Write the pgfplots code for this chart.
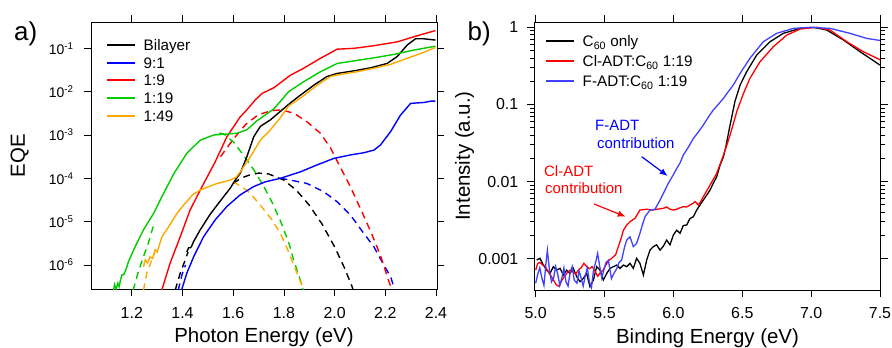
\documentclass[border=0pt]{standalone}
\usepackage{fontspec}
\setmainfont{Liberation Sans}
\usepackage{pgfplots}
\pgfplotsset{compat=1.18}
\usetikzlibrary{arrows.meta}
\definecolor{cgreen}{RGB}{0,204,0}
\definecolor{corange}{RGB}{255,168,0}
\definecolor{cblue}{RGB}{0,0,255}
\definecolor{cblueb}{RGB}{64,64,255}
\definecolor{cred}{RGB}{255,0,0}
\newcommand{\tsup}[1]{\textsuperscript{#1}}
\begin{document}
\begin{tikzpicture}
\pgfplotsset{
  common/.style={
    scale only axis, anchor=south west,
    tick align=outside, major tick length=7bp, minor tick length=4.5bp,
    axis line style={line width=0.8pt}, tick style={black, line width=0.8pt},
    label style={font=\fontsize{20.5}{22}\selectfont},
    xlabel style={at={(axis description cs:0.5,-0.1985)}, anchor=base},
    xticklabel style={anchor=base, yshift=-22bp, font=\fontsize{16}{18}\selectfont},
    legend cell align=left,
  },
}
% ---------------- panel a ----------------
\begin{axis}[common,
  at={(91bp,59bp)}, width=346bp, height=267bp,
  xmin=1.039, xmax=2.404, ymode=log, ymin=2.79e-7, ymax=0.405,
  xtick={1.2,1.4,1.6,1.8,2.0,2.2,2.4},
  xticklabels={1.2,1.4,1.6,1.8,2.0,2.2,2.4},
  ytick={1e-6,1e-5,1e-4,1e-3,1e-2,1e-1},
  yticklabels={10\tsup{-6},10\tsup{-5},10\tsup{-4},10\tsup{-3},10\tsup{-2},10\tsup{-1}},
  yminorticks=false,
  yticklabel style={anchor=east, xshift=-7bp, font=\fontsize{14}{16}\selectfont},
  every axis plot/.append style={line width=1.4bp},
  xlabel={Photon Energy (eV)}, ylabel={EQE},
  ylabel style={at={(axis description cs:-0.191,0.5)}, anchor=base},
  legend image code/.code={\draw[#1, line width=2bp] (0bp,0bp) -- (28bp,0bp);},
  legend style={at={(axis description cs:0.0434,0.942)}, anchor=north west,
    draw=none, fill=none, font=\fontsize{15.3}{17}\selectfont,
    row sep=2.6bp, column sep=7.5bp, inner sep=0pt,
    nodes={inner sep=0pt, text height=13bp, text depth=2bp}},
]
% dashed fits
\addplot[cblue, forget plot, dash pattern=on 7bp off 5bp] coordinates {(1.383,2.6e-7)(1.398,6.0e-7)(1.412,1.0e-6)};
\addplot[cblue, forget plot, dash pattern=on 7bp off 5bp] coordinates {(1.786,1.0e-4)(1.826,9.1e-5)(1.891,7.6e-5)(1.957,4.9e-5)(2.010,2.88e-5)(2.063,1.41e-5)(2.115,5.37e-6)(2.155,2.63e-6)(2.194,1.0e-6)(2.221,5.37e-7)(2.238,2.6e-7)};
\addplot[cred, forget plot, dash pattern=on 7bp off 5bp] coordinates {(1.55,3.16e-4)(1.60,7.94e-4)(1.65,1.78e-3)(1.70,2.95e-3)(1.75,3.63e-3)(1.79,3.8e-3)(1.84,3.16e-3)(1.89,2.04e-3)(1.944,1.10e-3)(1.984,5.0e-4)(2.023,1.78e-4)(2.063,6.3e-5)(2.102,2.0e-5)(2.142,6.0e-6)(2.181,1.66e-6)(2.214,4.2e-7)(2.227,2.6e-7)};
\addplot[black, forget plot, dash pattern=on 7bp off 5bp] coordinates {(1.371,2.6e-7)(1.391,6.46e-7)(1.411,1.32e-6)(1.422,2.0e-6)};
\addplot[black, forget plot, dash pattern=on 7bp off 5bp] coordinates {(1.600,7.6e-5)(1.63,1.0e-4)(1.66,1.17e-4)(1.70,1.32e-4)(1.74,1.26e-4)(1.80,9.1e-5)(1.85,5.25e-5)(1.90,2.4e-5)(1.95,8.9e-6)(2.00,2.63e-6)(2.04,8.3e-7)(2.069,3.16e-7)(2.073,2.6e-7)};
\addplot[cgreen, forget plot, dash pattern=on 7bp off 5bp] coordinates {(1.205,2.6e-7)(1.226,7.1e-7)(1.246,1.55e-6)(1.266,3.31e-6)(1.29,1.0e-5)};
\addplot[cgreen, forget plot, dash pattern=on 7bp off 5bp] coordinates {(1.545,1.10e-3)(1.562,1.07e-3)(1.602,6.76e-4)(1.641,3.39e-4)(1.681,1.58e-4)(1.720,6.6e-5)(1.753,2.82e-5)(1.786,1.05e-5)(1.819,3.31e-6)(1.839,1.26e-6)(1.865,4.47e-7)(1.876,2.6e-7)};
\addplot[corange, forget plot, dash pattern=on 7bp off 5bp] coordinates {(1.246,2.6e-7)(1.259,6.46e-7)(1.279,1.32e-6)(1.29,1.91e-6)};
\addplot[corange, forget plot, dash pattern=on 7bp off 5bp] coordinates {(1.60,8.3e-5)(1.641,6.0e-5)(1.668,4.47e-5)(1.707,2.4e-5)(1.753,1.10e-5)(1.786,5.37e-6)(1.813,2.4e-6)(1.839,1.0e-6)(1.865,4.17e-7)(1.880,2.6e-7)};
% measured EQE
\addplot[black] coordinates {(1.417,2.0e-6)(1.424,2.5e-6)(1.432,2.5e-6)(1.437,2.8e-6)(1.444,3.5e-6)(1.47,6.5e-6)(1.509,1.48e-5)(1.549,3.0e-5)(1.589,6.0e-5)(1.608,9.1e-5)(1.628,1.32e-4)(1.654,3.16e-4)(1.681,9.1e-4)(1.707,1.58e-3)(1.747,2.24e-3)(1.793,3.8e-3)(1.832,5.9e-3)(1.865,8.3e-3)(1.918,1.41e-2)(1.970,2.24e-2)(2.010,2.63e-2)(2.076,3.02e-2)(2.142,3.55e-2)(2.207,4.47e-2)(2.247,6.46e-2)(2.287,0.120)(2.319,0.166)(2.352,0.166)(2.398,0.155)};
\addlegendentry{Bilayer}
\addplot[cblue] coordinates {(1.396,2.6e-7)(1.417,6.46e-7)(1.444,1.55e-6)(1.483,4.47e-6)(1.529,1.10e-5)(1.575,2.24e-5)(1.628,4.17e-5)(1.681,6.46e-5)(1.727,8.3e-5)(1.786,1.0e-4)(1.865,1.41e-4)(1.931,2.04e-4)(1.997,2.88e-4)(2.063,3.47e-4)(2.115,3.89e-4)(2.155,4.47e-4)(2.181,5.89e-4)(2.221,1.20e-3)(2.260,2.88e-3)(2.300,5.37e-3)(2.352,5.62e-3)(2.379,6.03e-3)(2.398,6.03e-3)};
\addlegendentry{9:1}
\addplot[cred] coordinates {(1.318,2.6e-7)(1.351,1.10e-6)(1.391,4.47e-6)(1.43,1.86e-5)(1.47,5.37e-5)(1.529,2.40e-4)(1.575,9.1e-4)(1.628,2.63e-3)(1.654,3.8e-3)(1.687,6.46e-3)(1.714,9.1e-3)(1.760,1.23e-2)(1.826,2.40e-2)(1.878,3.47e-2)(1.944,5.89e-2)(2.010,9.55e-2)(2.076,0.100)(2.155,0.115)(2.247,0.141)(2.326,0.195)(2.398,0.257)};
\addlegendentry{1:9}
\addplot[cgreen] coordinates {(1.128,2.6e-7)(1.132,3.55e-7)(1.138,2.8e-7)(1.145,3.8e-7)(1.150,3.16e-7)(1.156,4.68e-7)(1.162,6.0e-7)(1.168,6.0e-7)(1.176,7.6e-7)(1.180,8.9e-7)(1.187,1.2e-6)(1.213,2.63e-6)(1.246,6.46e-6)(1.286,1.55e-5)(1.319,3.8e-5)(1.365,1.26e-4)(1.417,3.8e-4)(1.47,7.6e-4)(1.523,1.0e-3)(1.575,1.05e-3)(1.615,1.10e-3)(1.654,1.32e-3)(1.694,2.14e-3)(1.760,3.98e-3)(1.819,1.0e-2)(1.878,1.70e-2)(1.944,2.88e-2)(2.010,4.47e-2)(2.076,5.13e-2)(2.155,6.03e-2)(2.234,7.24e-2)(2.313,9.12e-2)(2.398,0.112)};
\addlegendentry{1:19}
\addplot[corange] coordinates {(1.246,9.1e-7)(1.253,1.32e-6)(1.262,1.12e-6)(1.272,1.55e-6)(1.282,1.41e-6)(1.292,2.24e-6)(1.300,2.0e-6)(1.319,4.47e-6)(1.345,7.6e-6)(1.378,1.55e-5)(1.404,2.4e-5)(1.44,4.17e-5)(1.47,5.37e-5)(1.536,7.6e-5)(1.589,9.1e-5)(1.612,1.07e-4)(1.628,1.41e-4)(1.668,3.16e-4)(1.707,7.6e-4)(1.747,1.32e-3)(1.786,2.51e-3)(1.819,4.68e-3)(1.872,7.6e-3)(1.931,1.41e-2)(1.984,2.24e-2)(2.023,2.51e-2)(2.089,2.88e-2)(2.155,3.47e-2)(2.221,4.27e-2)(2.287,5.89e-2)(2.352,8.13e-2)(2.398,0.105)};
\addlegendentry{1:49}
\end{axis}
% ---------------- panel b ----------------
\begin{axis}[common,
  at={(534.3bp,58bp)}, width=346.4bp, height=268bp,
  xmin=4.99, xmax=7.505, ymode=log, ymin=3.92e-4, ymax=1.173,
  xtick={5,5.5,6,6.5,7,7.5},
  xticklabels={5.0,5.5,6.0,6.5,7.0,7.5},
  ytick={0.001,0.01,0.1,1},
  yticklabels={0.001,0.01,0.1,1},
  yticklabel style={anchor=east, xshift=-5.5bp, font=\fontsize{16}{18}\selectfont},
  every axis plot/.append style={line width=1.3bp},
  xlabel={Binding Energy (eV)}, ylabel={Intensity (a.u.)},
  ylabel style={at={(axis description cs:-0.186,0.5)}, anchor=base},
  legend image code/.code={\draw[#1, line width=2bp] (0bp,0bp) -- (28bp,0bp);},
  legend style={at={(axis description cs:0.031,0.957)}, anchor=north west,
    draw=none, fill=none, font=\fontsize{15.3}{17}\selectfont,
    row sep=5bp, column sep=7.5bp, inner sep=0pt,
    nodes={inner sep=0pt, text height=13bp, text depth=2bp}},
]
\addplot[black] coordinates {(5.007,9.6e-4)(5.031,1.01e-3)(5.056,8.26e-4)(5.080,7.1e-4)(5.104,6.44e-4)(5.128,7.87e-4)(5.152,7.1e-4)(5.177,7.48e-4)(5.201,6.14e-4)(5.225,7.1e-4)(5.249,6.44e-4)(5.273,7.48e-4)(5.298,5.83e-4)(5.322,5.02e-4)(5.346,5.55e-4)(5.370,6.44e-4)(5.394,4.33e-4)(5.419,5.28e-4)(5.443,7.87e-4)(5.467,7.1e-4)(5.491,5.28e-4)(5.516,6.44e-4)(5.540,7.48e-4)(5.564,7.87e-4)(5.588,8.26e-4)(5.612,7.48e-4)(5.637,8.26e-4)(5.661,7.87e-4)(5.685,8.69e-4)(5.709,7.48e-4)(5.733,1.01e-3)(5.757,8.69e-4)(5.782,6.14e-4)(5.806,9.6e-4)(5.830,1.29e-3)(5.854,1.43e-3)(5.878,1.51e-3)(5.903,1.29e-3)(5.927,1.45e-3)(5.951,1.74e-3)(5.975,1.51e-3)(6.000,2.03e-3)(6.024,2.34e-3)(6.048,2.13e-3)(6.072,2.69e-3)(6.096,2.73e-3)(6.120,3.31e-3)(6.145,3.5e-3)(6.169,4.27e-3)(6.217,5.75e-3)(6.266,7.76e-3)(6.29,9.55e-3)(6.314,1.15e-2)(6.338,1.62e-2)(6.363,2.09e-2)(6.380,2.8e-2)(6.411,5.37e-2)(6.447,0.110)(6.484,0.178)(6.532,0.266)(6.605,0.438)(6.702,0.652)(6.798,0.836)(6.92,0.970)(7.016,1.0)(7.113,0.923)(7.234,0.686)(7.355,0.483)(7.5,0.324)};
\addlegendentry{C\textsubscript{60} only}
\addplot[cred] coordinates {(5.000,7.1e-4)(5.015,8.7e-4)(5.03,8.9e-4)(5.05,8.3e-4)(5.07,7.9e-4)(5.09,6.8e-4)(5.11,6.0e-4)(5.13,5.25e-4)(5.15,4.57e-4)(5.17,4.37e-4)(5.19,5.25e-4)(5.21,5.9e-4)(5.23,6.6e-4)(5.25,7.1e-4)(5.27,6.8e-4)(5.29,6.3e-4)(5.31,7.1e-4)(5.33,7.6e-4)(5.35,8.7e-4)(5.37,7.9e-4)(5.39,7.4e-4)(5.41,7.9e-4)(5.43,6.9e-4)(5.45,5.9e-4)(5.47,6.6e-4)(5.49,7.1e-4)(5.51,8.3e-4)(5.53,9.5e-4)(5.55,1.0e-3)(5.564,1.06e-3)(5.58,1.12e-3)(5.60,1.43e-3)(5.618,1.78e-3)(5.637,2.34e-3)(5.661,2.73e-3)(5.685,3.02e-3)(5.721,3.33e-3)(5.757,4.27e-3)(5.806,4.37e-3)(5.85,4.27e-3)(5.878,4.37e-3)(5.927,4.49e-3)(5.95,4.68e-3)(5.975,4.37e-3)(6.00,4.27e-3)(6.024,4.37e-3)(6.048,4.57e-3)(6.072,4.72e-3)(6.096,4.68e-3)(6.12,4.95e-3)(6.145,5.25e-3)(6.157,5.5e-3)(6.181,4.95e-3)(6.2,5.6e-3)(6.217,6.35e-3)(6.242,7.6e-3)(6.266,9.0e-3)(6.29,1.07e-2)(6.314,1.28e-2)(6.338,1.66e-2)(6.363,2.19e-2)(6.387,2.95e-2)(6.411,3.98e-2)(6.435,5.6e-2)(6.46,8.1e-2)(6.508,0.138)(6.556,0.219)(6.629,0.359)(6.726,0.562)(6.823,0.794)(6.92,0.95)(7.04,1.0)(7.137,0.923)(7.258,0.652)(7.379,0.483)(7.5,0.38)};
\addlegendentry{Cl-ADT:C\textsubscript{60} 1:19}
\addplot[cblueb] coordinates {(5.00,4.8e-4)(5.015,6.3e-4)(5.03,7.6e-4)(5.045,5.6e-4)(5.06,4.5e-4)(5.075,8.9e-4)(5.085,1.29e-3)(5.10,7.1e-4)(5.115,5.0e-4)(5.13,5.6e-4)(5.145,7.9e-4)(5.16,6.3e-4)(5.175,4.5e-4)(5.19,5.6e-4)(5.205,7.6e-4)(5.22,5.0e-4)(5.235,4.4e-4)(5.25,6.6e-4)(5.265,7.9e-4)(5.28,5.25e-4)(5.30,4.8e-4)(5.315,6.9e-4)(5.33,5.6e-4)(5.345,4.4e-4)(5.36,6.0e-4)(5.375,7.6e-4)(5.39,5.0e-4)(5.405,4.2e-4)(5.42,7.1e-4)(5.435,8.9e-4)(5.45,1.17e-3)(5.465,7.9e-4)(5.48,5.6e-4)(5.495,7.1e-4)(5.51,8.9e-4)(5.528,9.5e-4)(5.55,5.5e-4)(5.565,6.3e-4)(5.588,7.4e-4)(5.605,8.9e-4)(5.624,9.6e-4)(5.645,1.41e-3)(5.661,1.74e-3)(5.685,1.92e-3)(5.709,1.43e-3)(5.733,1.58e-3)(5.757,2.13e-3)(5.775,2.75e-3)(5.794,3.5e-3)(5.83,4.27e-3)(5.866,4.37e-3)(5.903,5.75e-3)(5.939,7.76e-3)(5.963,9.5e-3)(5.999,1.22e-2)(6.024,1.48e-2)(6.048,1.74e-2)(6.072,2.21e-2)(6.11,2.82e-2)(6.145,3.63e-2)(6.18,4.37e-2)(6.217,5.4e-2)(6.255,6.9e-2)(6.29,8.5e-2)(6.33,0.102)(6.363,0.120)(6.40,0.148)(6.435,0.179)(6.484,0.253)(6.556,0.398)(6.653,0.652)(6.75,0.836)(6.871,0.970)(6.992,1.0)(7.137,0.970)(7.282,0.836)(7.403,0.719)(7.5,0.676)};
\addlegendentry{F-ADT:C\textsubscript{60} 1:19}
\end{axis}
% panel letters and annotations
\node[anchor=base west, inner sep=0pt, font=\fontsize{26}{28}\selectfont] at (14bp,307.3bp) {a)};
\node[anchor=base west, inner sep=0pt, font=\fontsize{26}{28}\selectfont] at (467.5bp,307.3bp) {b)};
\node[anchor=base west, inner sep=0pt, text=cblue, font=\fontsize{15}{17}\selectfont] at (595bp,217bp) {F-ADT};
\node[anchor=base west, inner sep=0pt, text=cblue, font=\fontsize{15}{17}\selectfont] at (597bp,199bp) {contribution};
\node[anchor=base west, inner sep=0pt, text=cred, font=\fontsize{15}{17}\selectfont] at (544bp,171bp) {Cl-ADT};
\node[anchor=base west, inner sep=0pt, text=cred, font=\fontsize{15}{17}\selectfont] at (545bp,154.5bp) {contribution};
\draw[cblue, line width=1.2bp, -{Latex[length=8bp,width=6.5bp]}] (641.7bp,191.3bp) -- (667.7bp,172bp);
\draw[cred, line width=1.2bp, -{Latex[length=8bp,width=6.5bp]}] (594bp,144bp) -- (625.7bp,131.3bp);
\pgfresetboundingbox
\useasboundingbox (0,0) rectangle (892bp,348bp);
\end{tikzpicture}
\end{document}
